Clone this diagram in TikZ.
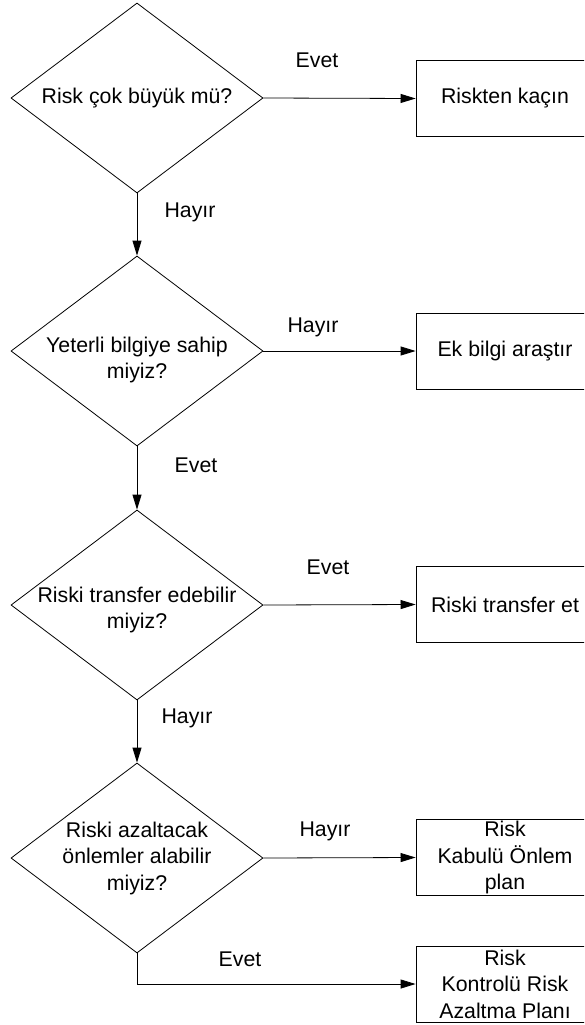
\documentclass[tikz,border=0pt]{standalone}
\usepackage{fontspec}
\setmainfont{Liberation Sans}
\usetikzlibrary{shapes.geometric,arrows.meta}
\begin{document}
\begin{tikzpicture}[x=1pt,y=-1pt,
  every node/.style={font=\fontsize{21.3pt}{26.5pt}\selectfont},
  dia/.style={draw, shape=diamond, minimum width=252pt, minimum height=190pt, inner sep=0pt, line width=0.8pt},
  txt/.style={align=center, inner sep=0pt},
  actbox/.style={draw, rectangle, minimum width=178pt, minimum height=76pt, inner sep=0pt, align=center, line width=0.8pt},
  lbl/.style={inner sep=0pt},
  arr/.style={line width=0.8pt, -{Triangle[length=15pt,width=9pt]}},
  con/.style={line width=0.8pt}]
\useasboundingbox (0,0) rectangle (584,1025);
\clip (0,0) rectangle (584,1025);

% decisions
\node[dia, label={[txt]center:Risk çok büyük mü?}] (d1) at (137,98) {};
\node[dia, label={[txt, yshift=-9pt]center:Yeterli bilgiye sahip\\miyiz?}] (d2) at (137,351) {};
\node[dia, label={[txt, yshift=-5pt]center:Riski transfer edebilir\\miyiz?}] (d3) at (137,605) {};
\node[dia, label={[txt]center:Riski azaltacak\\önlemler alabilir\\miyiz?}] (d4) at (137,858) {};

% actions
\node[actbox] (b1) at (505,98.5) {Riskten kaçın};
\node[actbox] (b2) at (505,351) {Ek bilgi araştır};
\node[actbox] (b3) at (505,604.5) {Riski transfer et};
\node[actbox] (b4) at (505,857.5) {Risk\\Kabulü Önlem\\plan};
\node[actbox] (b5) at (505,984) {Risk\\Kontrolü Risk\\Azaltma Planı};

% flow
\draw[arr] (d1.east) -- (b1.west);
\draw[arr] (d1.south) -- (d2.north);
\draw[arr] (d2.east) -- (b2.west);
\draw[arr] (d2.south) -- (d3.north);
\draw[arr] (d3.east) -- (b3.west);
\draw[arr] (d3.south) -- (d4.north);
\draw[arr] (d4.east) -- (b4.west);
\draw[arr] (d4.south) |- (b5.west);

% answers
\node[lbl] (l1) at (317,60) {Evet};
\node[lbl] (l2) at (190,212) {Hayır};
\node[lbl] (l3) at (313,327) {Hayır};
\node[lbl] (l4) at (196,465) {Evet};
\node[lbl] (l5) at (328,567) {Evet};
\node[lbl] (l6) at (187,718) {Hayır};
\node[lbl] (l7) at (325,831) {Hayır};
\node[lbl] (l8) at (240,959) {Evet};
\end{tikzpicture}
\end{document}
